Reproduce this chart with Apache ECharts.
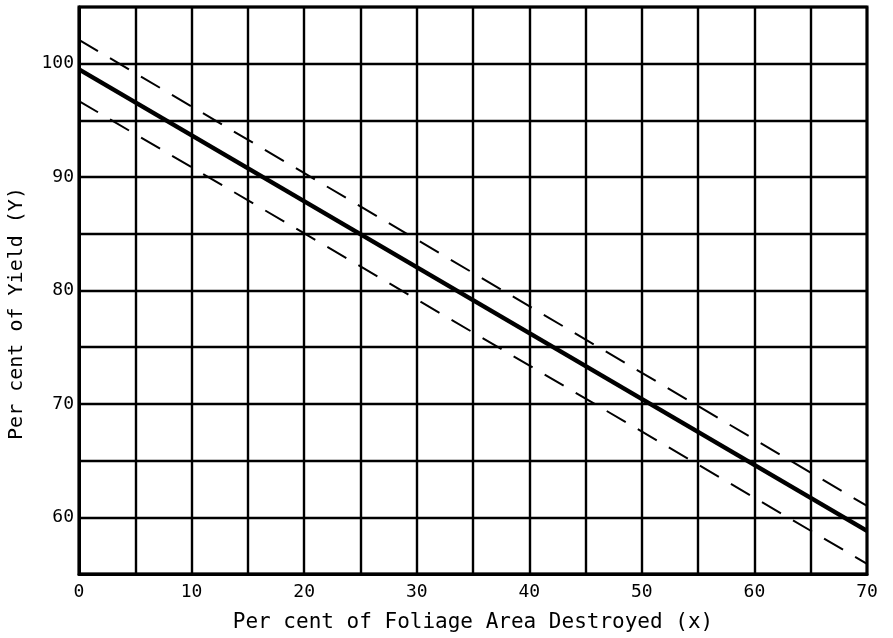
<!DOCTYPE html>
<html>
<head>
<meta charset="utf-8">
<script src="https://cdn.jsdelivr.net/npm/echarts@6/dist/echarts.min.js"></script>
<style>html,body{margin:0;padding:0;background:#fff}#c{width:893px;height:638px}</style>
</head>
<body>
<div id="c"></div>
<script>
const xTicks = [0, 10, 20, 30, 40, 50, 60, 70];
const yTicks = [60, 70, 80, 90, 100];
const regressionLine = [[0, 99.5], [70, 58.8]];
const upperLimit = [[0, 102.1], [70, 61.0]];
const lowerLimit = [[0, 96.7], [70, 55.9]];
const xTitle = 'Per cent of Foliage Area Destroyed (x)';
const yTitle = 'Per cent of Yield (Y)';

const font = 'DejaVu Sans Mono';
const chart = echarts.init(document.getElementById('c'), null, {renderer: 'canvas'});
chart.setOption({
  animation: false,
  backgroundColor: '#fff',
  grid: {left: 79, right: 26, top: 7, bottom: 64, containLabel: false, outerBoundsMode: 'none',
    show: true, borderColor: '#000', borderWidth: 3, backgroundColor: 'transparent'},
  xAxis: {
    type: 'value', min: 0, max: 70, interval: 5,
    name: xTitle, nameLocation: 'middle', nameGap: 38,
    nameTextStyle: {fontFamily: font, fontSize: 21, color: '#000'},
    axisLine: {show: true, lineStyle: {color: '#000', width: 3}},
    axisTick: {show: false},
    axisLabel: {fontFamily: font, fontSize: 18, color: '#000', margin: 9,
      formatter: v => xTicks.includes(v) ? String(v) : ''},
    splitLine: {show: true, lineStyle: {color: '#000', width: 2.4}}
  },
  yAxis: {
    type: 'value', min: 55, max: 105, interval: 5,
    name: yTitle, nameLocation: 'middle', nameGap: 52,
    nameTextStyle: {fontFamily: font, fontSize: 20, color: '#000', padding: [0, 46, 0, 0]},
    axisLine: {show: true, lineStyle: {color: '#000', width: 3}},
    axisTick: {show: false},
    axisLabel: {fontFamily: font, fontSize: 18, color: '#000', margin: 5,
      formatter: v => yTicks.includes(v) ? String(v) : ''},
    splitLine: {show: true, lineStyle: {color: '#000', width: 2.4}}
  },
  series: [
    {type: 'line', data: regressionLine, symbol: 'none', lineStyle: {color: '#000', width: 4.5}},
    {type: 'line', data: upperLimit, symbol: 'none', lineStyle: {color: '#000', width: 2, type: [22, 14]}},
    {type: 'line', data: lowerLimit, symbol: 'none', lineStyle: {color: '#000', width: 2, type: [22, 14]}}
  ]
});
</script>
</body>
</html>
